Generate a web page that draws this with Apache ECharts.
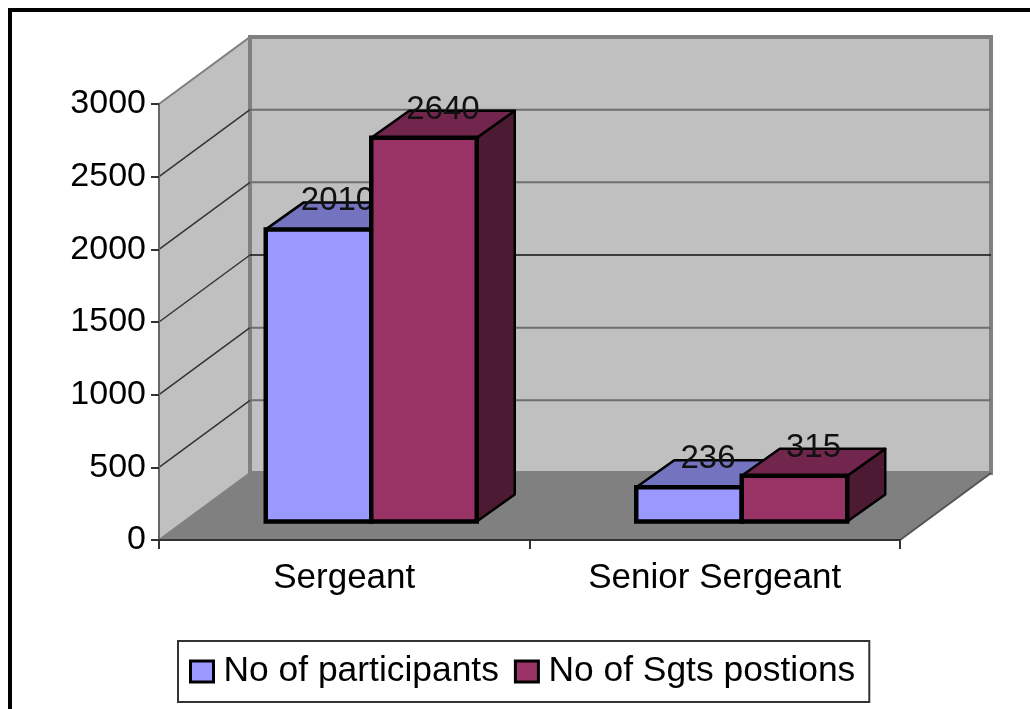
<!DOCTYPE html>
<html>
<head>
<meta charset="utf-8">
<style>html,body{margin:0;padding:0;background:#fff}#main{width:1030px;height:709px}</style>
<script src="https://cdn.jsdelivr.net/npm/echarts@6/dist/echarts.min.js"></script>
</head>
<body>
<div id="main"></div>
<script>
var categories = ['Sergeant', 'Senior Sergeant']
var participants = [2010, 236]
var positions = [2640, 315]
var gridValues = [500, 1000, 1500, 2000, 2500]

var font = '"Liberation Sans", Arial, sans-serif'
var depthX = 91, depthY = -67      // floor depth
var barShiftX = 27, barShiftY = -18.5  // bars stand this far back from the axis
var barDepthX = 38, barDepthY = -27
var barWidth = 105.5

function renderWalls(params) {
    var c = params.coordSys
    var l = c.x, r = c.x + c.width, t = c.y, b = c.y + c.height
    return {
        type: 'group',
        children: [{
            type: 'polygon',
            shape: { points: [[l, b], [l, t], [l + depthX, t + depthY], [l + depthX, b + depthY]] },
            style: { fill: '#c0c0c0', stroke: '#808080', lineWidth: 2 }
        }, {
            type: 'rect',
            shape: { x: l + depthX, y: t + depthY, width: c.width, height: c.height },
            style: { fill: '#c0c0c0', stroke: '#808080', lineWidth: 4 }
        }, {
            type: 'polygon',
            shape: { points: [[l, b], [l + depthX, b + depthY], [r + depthX, b + depthY], [r, b]] },
            style: { fill: '#808080' }
        }, {
            type: 'line',
            shape: { x1: r, y1: b, x2: r + depthX, y2: b + depthY },
            style: { stroke: '#555', lineWidth: 2 }
        }]
    }
}

function renderGridLine(params, api) {
    var c = params.coordSys
    var y = api.coord([0, api.value(1)])[1]
    var dark = api.value(1) === 1500
    return {
        type: 'group',
        children: [{
            type: 'line',
            shape: { x1: c.x, y1: y, x2: c.x + depthX, y2: y + depthY },
            style: { stroke: '#333', lineWidth: 1.5 }
        }, {
            type: 'line',
            shape: { x1: c.x + depthX, y1: y + depthY, x2: c.x + depthX + c.width, y2: y + depthY },
            style: { stroke: dark ? '#111' : '#6e6e6e', lineWidth: dark ? 1.5 : 2 }
        }]
    }
}

function barRenderer(side, front, topColor, sideColor) {
    return function (params, api) {
        var top = api.coord([api.value(0), api.value(1)])
        var base = api.coord([api.value(0), 0])
        var x = top[0] + barShiftX + side * barWidth
        var y = top[1] + barShiftY
        var y0 = base[1] + barShiftY
        var edge = { stroke: '#000', lineWidth: 2.5, lineJoin: 'round' }
        return {
            type: 'group',
            children: [{
                type: 'polygon',
                shape: { points: [[x + barWidth, y], [x + barWidth + barDepthX, y + barDepthY], [x + barWidth + barDepthX, y0 + barDepthY], [x + barWidth, y0]] },
                style: Object.assign({ fill: sideColor }, edge)
            }, {
                type: 'polygon',
                shape: { points: [[x, y], [x + barDepthX, y + barDepthY], [x + barWidth + barDepthX, y + barDepthY], [x + barWidth, y]] },
                style: Object.assign({ fill: topColor }, edge)
            }, {
                type: 'rect',
                shape: { x: x, y: y, width: barWidth, height: y0 - y },
                style: { fill: front, stroke: '#000', lineWidth: 4.5 }
            }, {
                type: 'text',
                style: {
                    x: x + barWidth / 2 + barDepthX / 2,
                    y: y - 28,
                    text: String(api.value(1)),
                    align: 'center',
                    verticalAlign: 'middle',
                    fill: '#111',
                    font: '33px ' + font
                }
            }]
        }
    }
}

function pairs(values) {
    return values.map(function (v, i) { return [i, v] })
}

var mychart = echarts.init(document.getElementById('main'), null, { renderer: 'canvas' })
mychart.setOption({
    animation: false,
    backgroundColor: '#fff',
    graphic: [{
        type: 'rect',
        z: 0,
        shape: { x: 10, y: 10, width: 1100, height: 800 },
        style: { fill: 'none', stroke: '#000', lineWidth: 4 }
    }],
    grid: { left: 159, top: 104, width: 741, height: 436 },
    legend: {
        left: 178,
        top: 641,
        data: ['No of participants', 'No of Sgts postions'],
        icon: 'rect',
        itemWidth: 23,
        itemHeight: 21,
        itemGap: 15,
        padding: [13, 14, 13, 11],
        backgroundColor: '#fff',
        borderColor: '#333',
        borderWidth: 2,
        borderRadius: 0,
        selectedMode: false,
        itemStyle: { borderColor: '#000', borderWidth: 3 },
        textStyle: { fontFamily: font, fontSize: 35.4, color: '#000', padding: [0, 0, 0, 5] }
    },
    xAxis: {
        type: 'category',
        data: categories,
        z: 5,
        axisLine: { lineStyle: { color: '#333', width: 2 } },
        axisTick: { show: true, length: 9, lineStyle: { color: '#333', width: 2 } },
        axisLabel: { fontFamily: font, fontSize: 35, color: '#000', margin: 21 }
    },
    yAxis: {
        type: 'value',
        min: 0,
        max: 3000,
        interval: 500,
        z: 5,
        splitLine: { show: false },
        axisLine: { show: true, lineStyle: { color: '#666', width: 2 } },
        axisTick: { show: true, length: 8, lineStyle: { color: '#333', width: 2 } },
        axisLabel: {
            fontFamily: font, fontSize: 34, color: '#000', margin: 13,
            formatter: function (v) { return String(v) }
        }
    },
    series: [{
        type: 'custom',
        name: 'walls',
        silent: true,
        clip: false,
        z: 1,
        data: [[0, 0]],
        renderItem: renderWalls
    }, {
        type: 'custom',
        name: 'gridlines',
        silent: true,
        clip: false,
        z: 2,
        data: pairs(gridValues).map(function (p) { return [0, p[1]] }),
        renderItem: renderGridLine
    }, {
        type: 'custom',
        name: 'No of participants',
        clip: false,
        z: 3,
        itemStyle: { color: '#9999ff' },
        data: pairs(participants),
        renderItem: barRenderer(-1, '#9999ff', '#7373bf', '#4d4d80')
    }, {
        type: 'custom',
        name: 'No of Sgts postions',
        clip: false,
        z: 4,
        itemStyle: { color: '#993366' },
        data: pairs(positions),
        renderItem: barRenderer(0, '#993366', '#73264d', '#4d1a33')
    }]
})
</script>
</body>
</html>
